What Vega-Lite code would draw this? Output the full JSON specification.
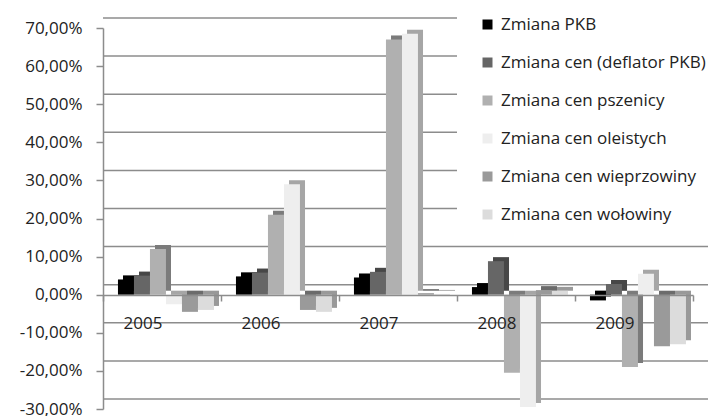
{
  "$schema": "https://vega.github.io/schema/vega-lite/v6.json",
  "width": 590,
  "height": 381,
  "autosize": {"type": "none"},
  "padding": {"left": 103, "top": 28, "right": 24, "bottom": 7},
  "background": "white",
  "config": {
    "view": {"stroke": null},
    "font": "Open Sans",
    "axisY": {
      "title": null,
      "labelFont": "Open Sans",
      "labelFontSize": 17,
      "labelColor": "#222222",
      "labelOverlap": false,
      "labelFlush": false,
      "tickSize": 7,
      "tickColor": "#8c8c8c",
      "tickWidth": 1.5,
      "domainColor": "#8c8c8c",
      "domainWidth": 1.5,
      "labelPadding": 14,
      "grid": false
    },
    "legend": {
      "title": null,
      "orient": "none",
      "legendX": 354,
      "legendY": -34,
      "fillColor": "white",
      "padding": 22,
      "symbolType": "square",
      "symbolSize": 100,
      "symbolStrokeWidth": 0,
      "labelFont": "Open Sans",
      "labelFontSize": 17,
      "labelColor": "#222222",
      "rowPadding": 20,
      "labelOffset": 5,
      "labelLimit": 400
    }
  },
  "resolve": {"scale": {"xOffset": "independent"}},
  "datasets": {
    "bars": [
      {"year": "2005", "series": "Zmiana PKB", "value": 4.0},
      {"year": "2005", "series": "Zmiana cen (deflator PKB)", "value": 5.0},
      {"year": "2005", "series": "Zmiana cen pszenicy", "value": 12.0},
      {"year": "2005", "series": "Zmiana cen oleistych", "value": -2.5},
      {"year": "2005", "series": "Zmiana cen wieprzowiny", "value": -4.5},
      {"year": "2005", "series": "Zmiana cen wołowiny", "value": -4.0},
      {"year": "2006", "series": "Zmiana PKB", "value": 4.8},
      {"year": "2006", "series": "Zmiana cen (deflator PKB)", "value": 5.8},
      {"year": "2006", "series": "Zmiana cen pszenicy", "value": 21.0},
      {"year": "2006", "series": "Zmiana cen oleistych", "value": 29.0},
      {"year": "2006", "series": "Zmiana cen wieprzowiny", "value": -4.0},
      {"year": "2006", "series": "Zmiana cen wołowiny", "value": -4.5},
      {"year": "2007", "series": "Zmiana PKB", "value": 4.5},
      {"year": "2007", "series": "Zmiana cen (deflator PKB)", "value": 6.0},
      {"year": "2007", "series": "Zmiana cen pszenicy", "value": 67.0},
      {"year": "2007", "series": "Zmiana cen oleistych", "value": 68.5},
      {"year": "2007", "series": "Zmiana cen wieprzowiny", "value": 0.4},
      {"year": "2007", "series": "Zmiana cen wołowiny", "value": 0.2},
      {"year": "2008", "series": "Zmiana PKB", "value": 2.0},
      {"year": "2008", "series": "Zmiana cen (deflator PKB)", "value": 8.8},
      {"year": "2008", "series": "Zmiana cen pszenicy", "value": -20.5},
      {"year": "2008", "series": "Zmiana cen oleistych", "value": -29.5},
      {"year": "2008", "series": "Zmiana cen wieprzowiny", "value": 1.2},
      {"year": "2008", "series": "Zmiana cen wołowiny", "value": 1.0},
      {"year": "2009", "series": "Zmiana PKB", "value": -1.5},
      {"year": "2009", "series": "Zmiana cen (deflator PKB)", "value": 2.8},
      {"year": "2009", "series": "Zmiana cen pszenicy", "value": -19.0},
      {"year": "2009", "series": "Zmiana cen oleistych", "value": 5.5},
      {"year": "2009", "series": "Zmiana cen wieprzowiny", "value": -13.5},
      {"year": "2009", "series": "Zmiana cen wołowiny", "value": -13.0}
    ],
    "grid": [
      {"v": -30}, {"v": -20}, {"v": -10}, {"v": 0}, {"v": 10}, {"v": 20},
      {"v": 30}, {"v": 40}, {"v": 50}, {"v": 60}, {"v": 70}
    ]
  },
  "layer": [
    {
      "data": {"name": "grid"},
      "mark": {"type": "rule", "color": "#8c8c8c", "strokeWidth": 1.5, "xOffset": 15, "x2Offset": 22, "yOffset": -10},
      "encoding": {
        "y": {
          "field": "v",
          "type": "quantitative",
          "title": null,
          "scale": {"domain": [-30, 70], "nice": false, "zero": false},
          "axis": {
            "values": [-30, -20, -10, 0, 10, 20, 30, 40, 50, 60, 70],
            "labelOverlap": false,
            "labelExpr": "replace(replace(format(datum.value, '.2f'), '.', ','), '−', '-') + '%'"
          }
        }
      }
    },
    {
      "data": {"name": "bars"},
      "mark": {"type": "bar", "yOffset": -4},
      "encoding": {
        "x": {"field": "year", "type": "nominal", "title": null},
        "xOffset": {
          "field": "series", "type": "nominal",
          "sort": ["Zmiana PKB", "Zmiana cen (deflator PKB)", "Zmiana cen pszenicy", "Zmiana cen oleistych", "Zmiana cen wieprzowiny", "Zmiana cen wołowiny"],
          "scale": {"paddingInner": 0, "paddingOuter": 0.6875, "align": 0.91}
        },
        "y": {
          "field": "value", "type": "quantitative", "title": null,
          "axis": {
            "values": [-30, -20, -10, 0, 10, 20, 30, 40, 50, 60, 70],
            "labelOverlap": false,
            "labelExpr": "replace(replace(format(datum.value, '.2f'), '.', ','), '−', '-') + '%'"
          }
        },
        "color": {"field": "series", "type": "nominal"}
      }
    },
    {
      "data": {"name": "bars"},
      "mark": {"type": "bar", "yOffset": -4, "color": "#000000", "opacity": 0.3},
      "encoding": {
        "x": {"field": "year", "type": "nominal", "title": null},
        "xOffset": {
          "field": "series", "type": "nominal",
          "sort": ["Zmiana PKB", "Zmiana cen (deflator PKB)", "Zmiana cen pszenicy", "Zmiana cen oleistych", "Zmiana cen wieprzowiny", "Zmiana cen wołowiny"],
          "scale": {"paddingInner": 0, "paddingOuter": 0.6875, "align": 0.91}
        },
        "y": {
          "field": "value", "type": "quantitative", "title": null,
          "axis": {
            "values": [-30, -20, -10, 0, 10, 20, 30, 40, 50, 60, 70],
            "labelOverlap": false,
            "labelExpr": "replace(replace(format(datum.value, '.2f'), '.', ','), '−', '-') + '%'"
          }
        }
      }
    },
    {
      "data": {"name": "bars"},
      "mark": {"type": "bar"},
      "encoding": {
        "x": {
          "field": "year",
          "type": "nominal",
          "title": null,
          "scale": {"paddingInner": 0, "paddingOuter": 0},
          "axis": {
            "title": null,
            "orient": "bottom",
            "offset": -114,
            "zindex": 1,
            "labelAngle": 0,
            "labelFont": "Open Sans",
            "labelFontSize": 17,
            "labelColor": "#222222",
            "labelPadding": 22,
            "tickBand": "extent",
            "tickSize": 6,
            "tickColor": "#8c8c8c",
            "tickWidth": 1.5,
            "domainColor": "#8c8c8c",
            "domainWidth": 1.5
          }
        },
        "xOffset": {
          "field": "series",
          "type": "nominal",
          "sort": ["Zmiana PKB", "Zmiana cen (deflator PKB)", "Zmiana cen pszenicy", "Zmiana cen oleistych", "Zmiana cen wieprzowiny", "Zmiana cen wołowiny"],
          "scale": {"paddingInner": 0, "paddingOuter": 0.6875, "align": 0.68}
        },
        "y": {
          "field": "value", "type": "quantitative", "title": null,
          "axis": {
            "values": [-30, -20, -10, 0, 10, 20, 30, 40, 50, 60, 70],
            "labelOverlap": false,
            "labelExpr": "replace(replace(format(datum.value, '.2f'), '.', ','), '−', '-') + '%'"
          }
        },
        "color": {
          "field": "series",
          "type": "nominal",
          "sort": ["Zmiana PKB", "Zmiana cen (deflator PKB)", "Zmiana cen pszenicy", "Zmiana cen oleistych", "Zmiana cen wieprzowiny", "Zmiana cen wołowiny"],
          "scale": {
            "domain": ["Zmiana PKB", "Zmiana cen (deflator PKB)", "Zmiana cen pszenicy", "Zmiana cen oleistych", "Zmiana cen wieprzowiny", "Zmiana cen wołowiny"],
            "range": ["#000000", "#666666", "#b0b0b0", "#eeeeee", "#9a9a9a", "#dcdcdc"]
          },
          "legend": {"title": null}
        }
      }
    }
  ]
}
